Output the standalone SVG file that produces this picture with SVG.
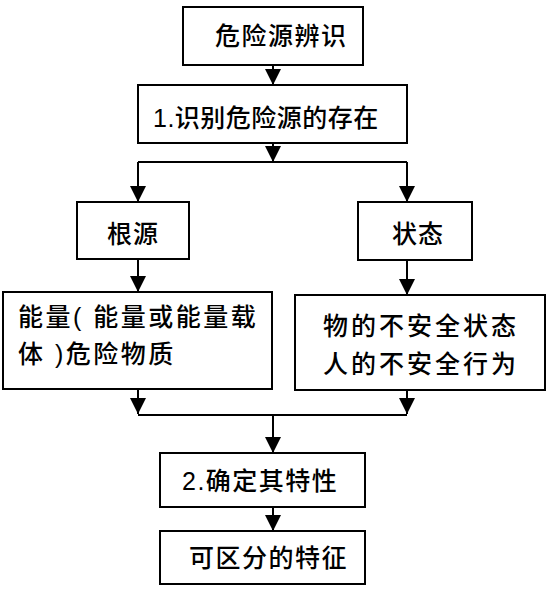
<svg xmlns="http://www.w3.org/2000/svg" width="548" height="589" viewBox="0 0 548 589">
<style>
.box{fill:#fff;stroke:#000;stroke-width:2}
.t{font-family:"Liberation Sans","Noto Sans CJK SC",sans-serif;fill:#000;font-size:25px;font-weight:500}
.c{fill:none;stroke:#000;stroke-width:2}
</style>
<defs>
<marker id="ah" markerUnits="userSpaceOnUse" markerWidth="18" markerHeight="18" viewBox="0 0 18 18" refX="17" refY="9" orient="auto">
<path d="M1,1 L17,9 L1,17 Z" fill="#000"/>
</marker>
</defs>
<rect width="548" height="589" fill="#fff"/>
<g id="connectors">
<path class="c" d="M273,65 V85" marker-end="url(#ah)"/>
<path class="c" d="M273,143 V162" marker-end="url(#ah)"/>
<path class="c" d="M138,162 H407"/>
<path class="c" d="M138,162 V202" marker-end="url(#ah)"/>
<path class="c" d="M407,162 V202" marker-end="url(#ah)"/>
<path class="c" d="M138,259 V292" marker-end="url(#ah)"/>
<path class="c" d="M407,260 V295" marker-end="url(#ah)"/>
<path class="c" d="M138,389 V414" marker-end="url(#ah)"/>
<path class="c" d="M407,390 V414" marker-end="url(#ah)"/>
<path class="c" d="M138,415 H407"/>
<path class="c" d="M273,415 V453" marker-end="url(#ah)"/>
<path class="c" d="M273,507 V531" marker-end="url(#ah)"/>
</g>
<g id="n1">
<rect class="box" x="183" y="7" width="180" height="58"/>
<text class="t" x="215" y="45" letter-spacing="1.5">危险源辨识</text>
</g>
<g id="n2">
<rect class="box" x="138" y="85" width="269" height="58"/>
<text class="t" x="153" y="127" font-size="28" letter-spacing="0.5">1.识别危险源的存在</text>
</g>
<g id="n3">
<rect class="box" x="77" y="202" width="112" height="57"/>
<text class="t" x="107" y="243" letter-spacing="1">根源</text>
</g>
<g id="n4">
<rect class="box" x="358" y="202" width="114" height="58"/>
<text class="t" x="392" y="243" letter-spacing="1">状态</text>
</g>
<g id="n5">
<rect class="box" x="3" y="292" width="269" height="97"/>
<text class="t" x="18" y="326" font-size="24" letter-spacing="2.5">能量( 能量或能量载</text>
<text class="t" x="18" y="363" font-size="24" letter-spacing="2.5">体 )危险物质</text>
</g>
<g id="n6">
<rect class="box" x="295" y="295" width="250" height="95"/>
<text class="t" x="323" y="335" font-size="24" letter-spacing="3">物的不安全状态</text>
<text class="t" x="323" y="373" font-size="24" letter-spacing="3">人的不安全行为</text>
</g>
<g id="n7">
<rect class="box" x="160" y="453" width="205" height="54"/>
<text class="t" x="182" y="490" letter-spacing="1.5">2.确定其特性</text>
</g>
<g id="n8">
<rect class="box" x="160" y="531" width="205" height="53"/>
<text class="t" x="189" y="567" letter-spacing="1.5">可区分的特征</text>
</g>
</svg>
